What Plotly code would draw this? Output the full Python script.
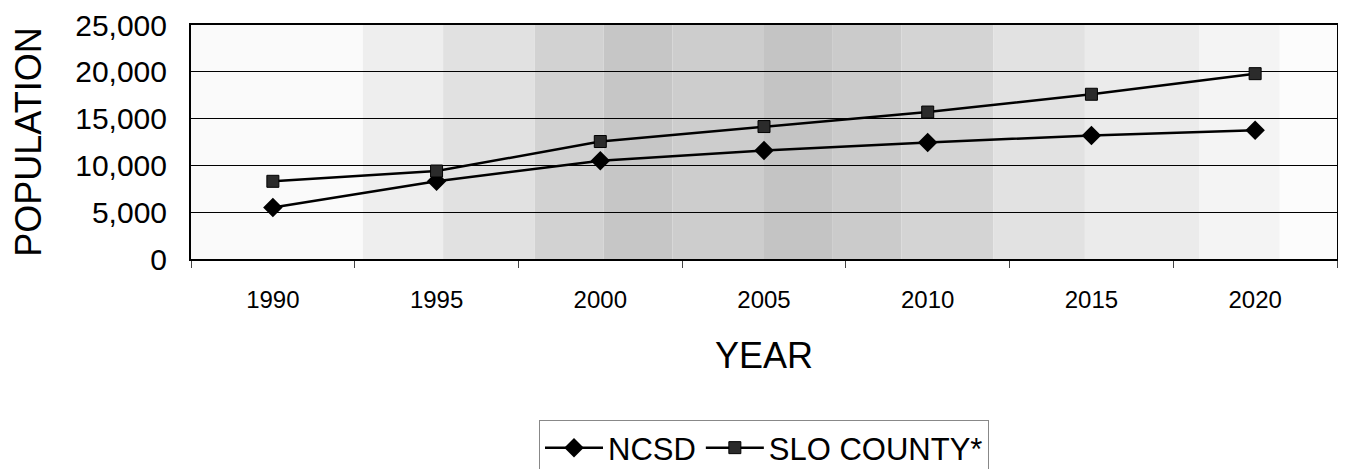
import plotly.graph_objects as go

years = ["1990", "1995", "2000", "2005", "2010", "2015", "2020"]
ncsd = [5500, 8300, 10500, 11600, 12450, 13200, 13750]
slo_county = [8300, 9400, 12550, 14150, 15700, 17600, 19800]
y_ticks = [0, 5000, 10000, 15000, 20000, 25000]

# decorative scanned-texture background bands (paper-x fractions, gray level)
bg_edges = [0.0, 0.15, 0.22, 0.30, 0.36, 0.42, 0.50, 0.56, 0.62, 0.70, 0.78, 0.88, 0.95, 1.0]
bg_grays = [250, 238, 225, 210, 198, 205, 196, 203, 212, 226, 235, 244, 252]

fig = go.Figure()
fig.add_trace(go.Scatter(
    x=years, y=ncsd, name="NCSD", mode="lines+markers",
    line=dict(color="black", width=2.5),
    marker=dict(symbol="diamond", size=15, color="black"),
))
fig.add_trace(go.Scatter(
    x=years, y=slo_county, name="SLO COUNTY*", mode="lines+markers",
    line=dict(color="black", width=2.5),
    marker=dict(symbol="square", size=12, color="#2b2b2b", line=dict(color="black", width=1)),
))

shapes = []
for i, g in enumerate(bg_grays):
    c = f"rgb({g},{g},{g})"
    shapes.append(dict(type="rect", xref="paper", yref="paper",
                       x0=bg_edges[i], x1=bg_edges[i + 1], y0=0, y1=1,
                       fillcolor=c, line=dict(width=0), layer="below"))

fig.update_layout(
    width=1338, height=461,
    margin=dict(l=183, r=9, t=17, b=210, autoexpand=False),
    paper_bgcolor="white", plot_bgcolor="white",
    font=dict(family="Liberation Sans, Arial, sans-serif", color="black"),
    shapes=shapes,
    showlegend=True,
    legend=dict(
        orientation="h", x=0.5, xanchor="center",
        yref="container", y=0.1063, yanchor="top",
        font=dict(size=31, color="black"),
        bordercolor="#888888", borderwidth=1, bgcolor="white",
        itemwidth=58, tracegroupgap=0,
    ),
    xaxis=dict(
        type="category", categoryorder="array", categoryarray=years,
        range=[-0.5, len(years) - 0.5], automargin=False,
        showgrid=False, showline=True, linecolor="black", linewidth=2, mirror=True,
        ticks="outside", tickson="boundaries", ticklen=7, tickcolor="#444", tickwidth=1,
        tickfont=dict(size=24), ticklabelstandoff=18,
        title=dict(text="YEAR", font=dict(size=36), standoff=31),
    ),
    yaxis=dict(
        range=[0, 25000], tickvals=y_ticks, tickformat=",", automargin=False,
        showgrid=True, gridcolor="black", gridwidth=1,
        showline=True, linecolor="black", linewidth=2, mirror=True,
        ticks="", tickfont=dict(size=30), ticklabelstandoff=16,
        zeroline=False,
        title=dict(text="POPULATION", font=dict(size=36), standoff=39),
    ),
)

fig.write_html("out.html")
